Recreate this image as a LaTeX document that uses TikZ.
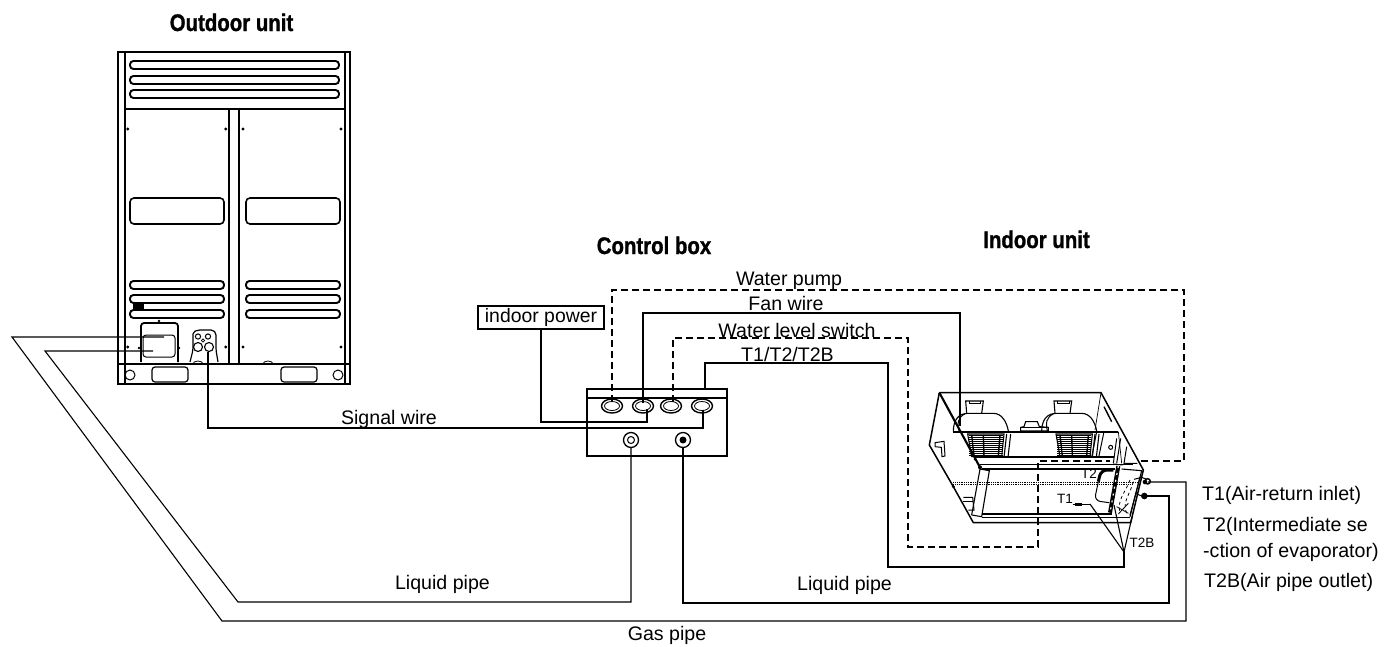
\documentclass[tikz,border=0pt]{standalone}
\usepackage{fontspec}
\setmainfont{Liberation Sans}
\newfontface\ttlface[FakeBold=1.2]{Liberation Sans Bold}
\newcommand{\ttltext}[1]{\scalebox{0.85}[1]{#1}}
\tikzset{
  lbl/.style={inner sep=0pt,anchor=base,font=\fontsize{19.6}{22}\selectfont},
  lblw/.style={inner sep=0pt,anchor=base west,font=\fontsize{19.6}{22}\selectfont},
  small/.style={inner sep=0pt,font=\fontsize{13.5}{15}\selectfont},
  ttl/.style={inner sep=0pt,anchor=base,font=\fontsize{24}{26}\ttlface},
  wire/.style={line width=1.1pt,line join=miter},
  dwire/.style={line width=1.1pt,dash pattern=on 7pt off 4pt},
  pipe/.style={line width=1.1pt},
  body/.style={line width=1.5pt},
  thin part/.style={line width=0.7pt},
  slot/.style={line width=1.9pt,rounded corners=3.5pt},
  port/.style={draw,ellipse,line width=1.4pt,minimum width=21pt,minimum height=14pt,inner sep=0pt},
  valve/.style={draw,circle,line width=1.3pt,minimum size=15pt,inner sep=0pt},
}
\usetikzlibrary{shapes.geometric}
\begin{document}
\begin{tikzpicture}[x=1pt,y=-1pt]
\useasboundingbox (0,0) rectangle (1399,646);
\fill[white] (0,0) rectangle (1399,646);

% ---------- Outdoor unit ----------
\node[ttl] (tOut) at (231.5,31) {\ttltext{Outdoor unit}};
\draw[body] (118,52) rectangle (350,384);
\draw[body] (125,52) -- (125,384);
\draw[body] (345,52) -- (345,384);
\draw[body] (125,109) -- (345,109);
\draw[body] (229,109) -- (229,363);
\draw[body] (239,109) -- (239,363);
\draw[line width=2pt] (118,363.5) -- (350,363.5);
\draw[line width=2pt] (118,384) -- (350,384);
\foreach \y in {65,80,94}
  \draw[slot] (130,\y-4) rectangle (339,\y+4);
\foreach \y in {285,299,314}{
  \draw[slot] (130,\y-4) rectangle (224,\y+4);
  \draw[slot] (246,\y-4) rectangle (340,\y+4);
}
\draw[line width=1.6pt,rounded corners=4pt] (130,198) rectangle (224,224);
\draw[line width=1.6pt,rounded corners=4pt] (246,198) rectangle (340,224);
\foreach \x in {127.7,225.7,243,341}{
  \fill (\x,129) circle (1.6);
  \fill (\x,347) circle (1.6);
}
\fill (133,304) rectangle (144,310);
\draw[line width=1.2pt,rounded corners=3pt] (152,367) rectangle (188,382);
\draw[line width=1.2pt,rounded corners=3pt] (281,367) rectangle (317,382);
\draw[line width=1pt] (130,375) circle (5);
\draw[line width=1pt] (338,375) circle (5);
\draw[line width=0.8pt] (193,364) arc (180:360:5 and 3);
\draw[line width=0.8pt] (263,364) arc (180:360:5 and 3);
% service panel
\draw[line width=1.8pt,rounded corners=3pt] (141,362) -- (141,323) -- (178,323) -- (178,362);
\draw[line width=1pt,rounded corners=3pt] (143,335) -- (175,335) -- (175,357) -- (143,357) -- cycle;
\fill (159,321) circle (1.4);
\fill (139,348) circle (1.4);
\fill (179,348) circle (1.4);
% valve plate
\draw[line width=1.2pt,rounded corners=2pt] (190,362) -- (193,350) -- (193,332) -- (198,330) -- (213,330) -- (216,333) -- (216,350) -- (218,362);
\draw[line width=1.1pt] (198,347) circle (4.5);
\draw[line width=1.1pt] (209,347) circle (4.5);
\draw[line width=1pt] (198,336.5) circle (2.6);
\draw[line width=1pt] (208,336.5) circle (2.6);
\draw[line width=.8pt] (203,340.5) circle (1.6);
\coordinate (gasOut) at (164,337);
\coordinate (liqOut) at (153,351);
\coordinate (sigOut) at (208,352);

% ---------- Control box ----------
\node[ttl] (tCtl) at (654,254) {\ttltext{Control box}};
\draw[line width=1.8pt] (587,398) -- (587,456) -- (727,456) -- (727,398);
\draw[line width=1.3pt] (587,389) rectangle (727,398);
\node[port] (p1) at (612,406) {};
\node[port] (p2) at (643,406) {};
\node[port] (p3) at (671,406) {};
\node[port] (p4) at (702,406) {};
\foreach \n in {p1,p2,p3,p4}
  \draw[line width=.8pt] (\n) ellipse (7.5 and 4.5);
\node[valve] (v1) at (631,440) {};
\node[valve] (v2) at (683,440) {};
\draw[line width=1pt] (v1) circle (3.5);
\fill (v2) circle (3.5);

\node[draw,line width=1.1pt,minimum width=126pt,minimum height=23pt,inner sep=0pt,font=\fontsize{19.4}{22}\selectfont] (power) at (541,317.5) {indoor power};

% ---------- Indoor unit ----------
\node[ttl] (tIn) at (1036.5,248) {\ttltext{Indoor unit}};
\begin{scope}[shift={(900,370)},x=0.33333pt,y=-0.33333pt]
  % casing
  \draw[body] (118,68) -- (603,68) -- (730,300) -- (692,458) -- (220,458) -- (160,350) -- (88,225) -- (118,68);
  \draw[line width=2.1pt] (118,68) -- (240,292);
  \draw[thin part] (603,68) -- (585,180);
  \draw[line width=1.4pt] (612,110) -- (635,155);
  % inner frame
  \draw[line width=2pt] (160,185) -- (655,185);
  \draw[line width=2.2pt] (222,262) -- (642,262);
  \draw[line width=1.2pt] (240,284) -- (700,284);
  \draw[line width=1.2pt] (245,297) -- (645,297);
  \draw[line width=1.2pt] (245,432) -- (635,432);
  \draw[line width=1pt] (245,442) -- (690,442);
  \draw[thin part] (655,185) -- (665,280);
  % dotted line
  \draw[line width=.8pt,densely dotted] (160,338) -- (715,338);
  \draw[line width=.8pt,densely dotted] (160,343) -- (700,343);
  % front post
  \draw[line width=1.1pt] (240,297) -- (268,302) -- (245,440) -- (215,435);
  \draw[line width=1.1pt] (240,297) -- (215,435);
  \fill (240,292) circle (6);
  \fill (160,350) circle (5);
  \fill (225,268) circle (4);
  % left side bits
  \draw[line width=1pt] (105,218) -- (132,214) -- (135,258) -- (126,260) -- (124,232) -- (105,230) -- cycle;
  \draw[line width=1pt] (190,382) -- (218,382) -- (222,420) -- (205,420);
  \draw[line width=1pt] (190,395) -- (218,395);
  % blowers
  \foreach \d in {0,265}{
    \begin{scope}[xshift=\d*0.33333pt]
    \draw[line width=1.1pt] (160,185) .. controls (160,150) and (175,130) .. (205,130) -- (280,130) .. controls (305,130) and (320,155) .. (325,183);
    \draw[line width=1pt] (178,185) .. controls (170,160) and (175,140) .. (195,132);
    \draw[line width=1.1pt] (200,130) -- (197,93) -- (250,93) -- (245,130);
    \draw[line width=1pt] (207,93) -- (207,100) -- (242,100) -- (242,93);
    \draw[line width=1.1pt] (203,192) -- (312,192) -- (305,260) -- (215,260) -- cycle;
    \foreach \yy in {196,202,208,214,220,226,232,238,244,250,256}
      \draw[line width=.8pt] (207,\yy) -- (308,\yy);
    \draw[line width=1.4pt] (250,195) -- (252,260);
    \draw[line width=1.4pt] (215,195) -- (222,258);
    \draw[line width=1.4pt] (300,195) -- (295,258);
    \draw[line width=1.1pt] (320,192) -- (312,262);
    \draw[line width=1.1pt] (332,192) -- (324,262);
    \end{scope}
  }
  % centre bump
  \draw[line width=1.1pt] (362,183) -- (362,172) -- (372,170) -- (377,155) -- (412,155) -- (418,170) -- (445,172) -- (445,183) -- cycle;
  \draw[line width=.8pt] (362,172) -- (445,172);
  % right end
  \draw[line width=1pt] (632,232) circle (6);
  \draw[line width=1pt] (612,185) -- (596,262);
  \draw[line width=1pt] (590,185) -- (575,262);
  \draw[line width=1pt] (650,205) -- (640,280);
  \draw[line width=1pt] (662,205) -- (650,280);
  \draw[line width=1pt] (680,230) -- (672,280) -- (712,280);
  % coil end panel
  \draw[line width=1.1pt] (665,297) -- (725,302) -- (690,440);
  \draw[line width=1pt] (720,322) -- (690,435);
  \draw[line width=.8pt,dashed] (690,330) .. controls (675,370) and (650,390) .. (660,430);
  \draw[line width=.8pt,dashed] (700,335) .. controls (690,375) and (665,395) .. (680,430);
  \draw[line width=.8pt] (650,410) -- (685,430) (685,400) -- (655,432);
  % evaporator strip
  \draw[line width=4pt] (655,288) -- (630,428);
  \draw[line width=1.2pt,white,dash pattern=on 2pt off 5pt] (655,288) -- (630,428);
  \draw[line width=1pt] (640,282) -- (668,285);
  % T2 U pipe
  \draw[line width=3pt,rounded corners=6pt] (640,300) -- (603,300) -- (595,335);
  \draw[line width=1pt,rounded corners=6pt] (595,335) -- (583,392) -- (628,398);
  % sensors
  \draw[line width=1pt] (518,403) -- (572,403);
  \draw[line width=2.4pt] (525,403) -- (545,403);
  % pipe stubs
  \draw[line width=1pt] (702,328) -- (725,322) -- (745,330);
  \draw[line width=1.4pt,fill=white] (743,334) circle (8);
  \fill (735,336) circle (7);
  \fill (733,378) circle (10);
  \draw[line width=1pt] (705,370) -- (725,378);
\end{scope}
\coordinate (gasIn) at (1148,482);
\coordinate (liqIn) at (1145,496);
\coordinate (fanIn) at (960,426);
\coordinate (pumpIn) at (1140,461);
\coordinate (levelIn) at (1110,461);
\coordinate (sensHub) at (1124,552);
\coordinate (sT1) at (1090,504);
\coordinate (sT2) at (1114,505);
\coordinate (sT2b) at (1132,517);

% ---------- Connectors ----------
\draw[pipe] (gasOut) -- (12,337) -- (222,621) -- (1186,621) -- (1186,482) -- (gasIn);
\draw[pipe] (liqOut) -- (45,351) -- (238,602) -- (631,602) -- (v1.south);
\draw[pipe] (v2.south) -- (683,603) -- (1169,603) -- (1169,496) -- (liqIn);
\draw[wire] (sigOut) -- (208,428) -- (703,428) -- (703,410);
\draw[wire] (power.south) -- (541,422) -- (647,422) -- (647,409);
\draw[dwire] (612,402) -- (612,290) -- (1184,290) -- (1184,461) -- (pumpIn);
\draw[wire] (643,403) -- (643,313) -- (960,313) -- (fanIn);
\draw[dwire] (673,402) -- (673,338) -- (908,338) -- (908,547) -- (1038,547) -- (1038,461) -- (levelIn);
\draw[wire] (705,389) -- (705,363) -- (888,363) -- (888,567) -- (1124,567) -- (sensHub);
\draw[wire] (sensHub) -- (sT1);
\draw[wire] (sensHub) -- (sT2);
\draw[wire] (sensHub) -- (sT2b);

% ---------- Labels ----------
\node[lbl] (lPump) at (789,285) {Water pump};
\node[lbl] (lFan) at (786,310) {Fan wire};
\node[lbl] (lLevel) at (797,337) {Water level switch};
\node[lbl] (lTs) at (787.5,361) {T1/T2/T2B};
\node[lbl] (lSig) at (389,424) {Signal wire};
\node[lbl] (lLiq1) at (442.5,589) {Liquid pipe};
\node[lbl] (lLiq2) at (844.5,590) {Liquid pipe};
\node[lbl] (lGas) at (667,640) {Gas pipe};
\node[small] (sA) at (1089,474) {T2};
\node[small] (sB) at (1065,499) {T1};
\node[small] (sC) at (1142,543) {T2B};
\node[lblw] (n1) at (1202,500) {T1(Air-return inlet)};
\node[lblw] (n2) at (1203,531) {T2(Intermediate se};
\node[lblw] (n3) at (1203,557) {-ction of evaporator)};
\node[lblw] (n4) at (1204,587) {T2B(Air pipe outlet)};
\end{tikzpicture}
\end{document}
